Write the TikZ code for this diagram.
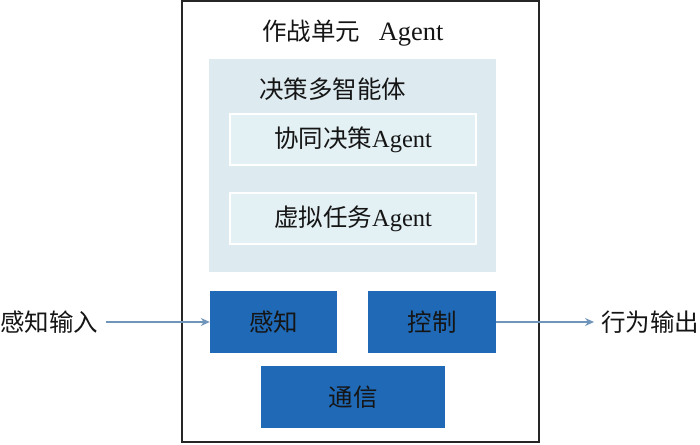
\documentclass[tikz,border=0pt]{standalone}
\usepackage{fontspec}
\setmainfont{Liberation Serif}
\newfontfamily\cjk{Noto Sans CJK SC}
\usetikzlibrary{arrows.meta}
\definecolor{darkblue}{HTML}{1F69B6}
\definecolor{panelblue}{HTML}{DDEAF0}
\definecolor{innerblue}{HTML}{E3F0F4}
\definecolor{arrowblue}{HTML}{7095BA}
\definecolor{txt}{HTML}{151515}
\tikzset{
  lbl/.style={font=\fontsize{24.5}{28}\selectfont, text=txt, inner sep=0pt},
  darkbox/.style={fill=darkblue, draw=none, inner sep=0pt, font=\fontsize{24.5}{28}\selectfont\cjk, text=txt},
  innerbox/.style={fill=innerblue, draw=white, line width=1.2pt, inner sep=0pt, font=\fontsize{24.5}{28}\selectfont, text=txt},
  flow/.style={draw=arrowblue, line width=1.2pt, -{Stealth[length=9pt,width=8pt]}}
}
\begin{document}
\begin{tikzpicture}[x=1pt,y=-1pt]
\useasboundingbox (0,0) rectangle (700,444);
% outer box
\node[draw=black!85, line width=1.3pt, minimum width=357pt, minimum height=441pt, inner sep=0pt] (outer) at (360.5,221.5) {};
\node[lbl] (title) at (353,33) {{\cjk 作战单元}\hspace{0.75em}{\fontsize{26.5}{28}\selectfont Agent}};
% panel
\node[fill=panelblue, draw=none, minimum width=287pt, minimum height=213pt, inner sep=0pt] (panel) at (352.5,165.5) {};
\node[lbl, anchor=west] (paneltitle) at (259,89) {\cjk 决策多智能体};
\node[innerbox, minimum width=246pt, minimum height=51pt] (coop) at (353,139.5) {{\cjk 协同决策}Agent};
\node[innerbox, minimum width=246pt, minimum height=51pt] (virt) at (353,218.5) {{\cjk 虚拟任务}Agent};
% dark boxes
\node[darkbox, minimum width=127pt, minimum height=62pt] (sense) at (273.5,322) {感知};
\node[darkbox, minimum width=128pt, minimum height=62pt] (ctrl) at (432,322) {控制};
\node[darkbox, minimum width=184pt, minimum height=62pt] (comm) at (353,397) {通信};
% external labels
\node[lbl, anchor=west] (in) at (0,322) {\cjk 感知输入};
\node[lbl, anchor=west] (out) at (601,322) {\cjk 行为输出};
\draw[flow] (in.east) ++(8pt,0) -- (sense.west);
\coordinate (outend) at (594,322);
\draw[flow] (ctrl.east) -- (outend);
\end{tikzpicture}
\end{document}
